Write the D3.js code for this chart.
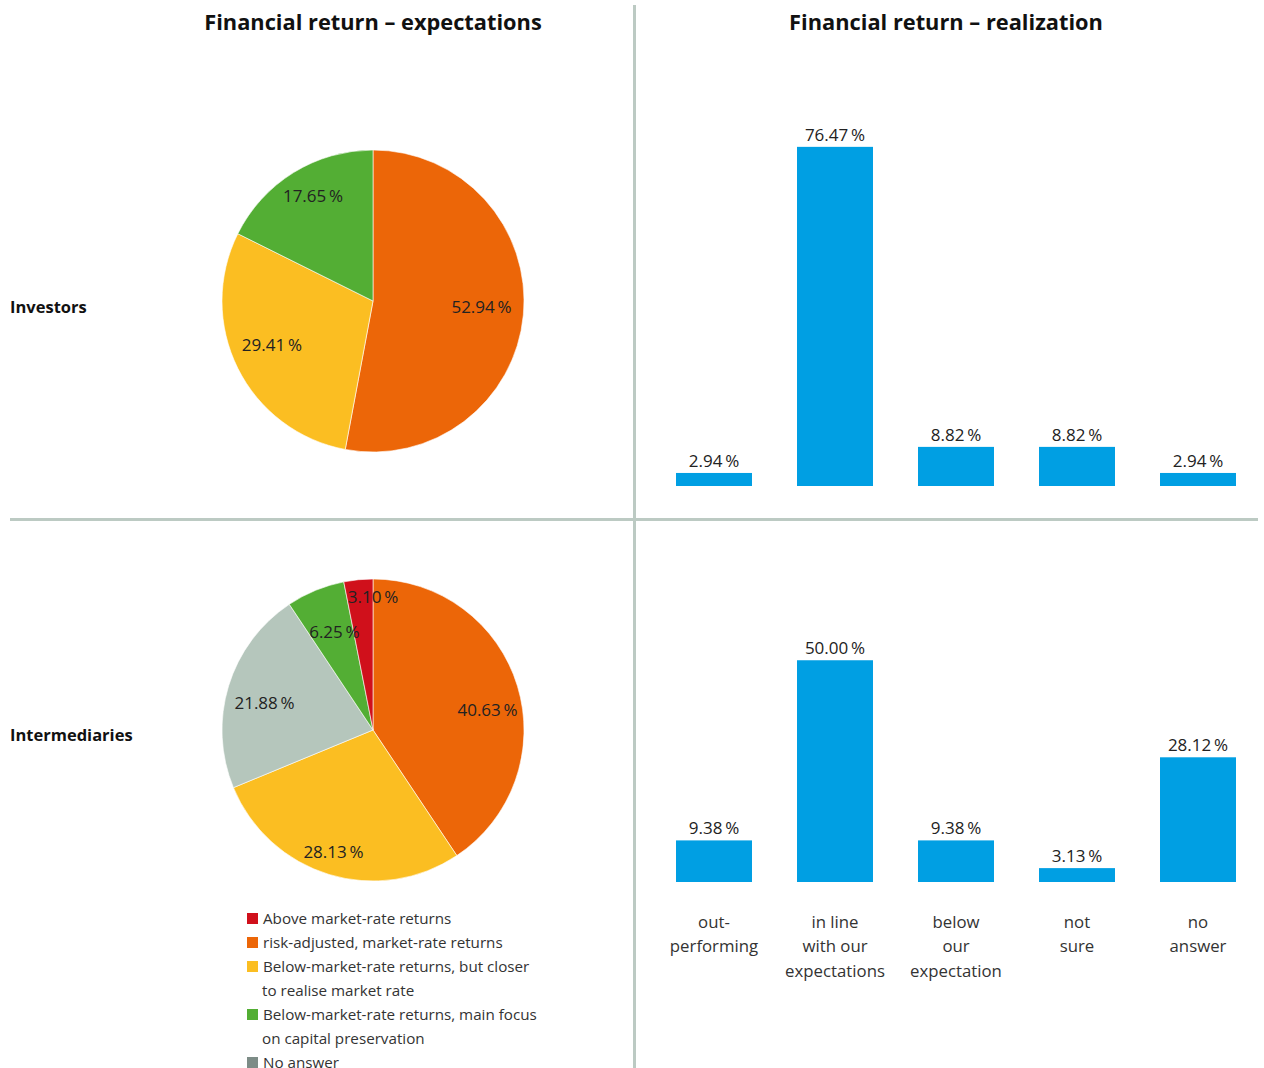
<!DOCTYPE html>
<html>
<head>
<meta charset="utf-8">
<script src="https://cdn.jsdelivr.net/npm/d3@7/dist/d3.min.js"></script>
<style>
  html, body { margin: 0; padding: 0; background: #fff; }
  svg { display: block; }
  text { font-family: "Open Sans", Roboto, sans-serif; fill: #222; }
  .title, .rowlabel { font-family: "Open Sans", "Noto Sans", sans-serif; font-weight: 700; fill: #111; }
</style>
</head>
<body>
<svg id="chart" width="1264" height="1068"></svg>
<script>
// ---- data ----
const expectCategories = [
  "Above market-rate returns",
  "risk-adjusted, market-rate returns",
  "Below-market-rate returns, but closer to realise market rate",
  "Below-market-rate returns, main focus on capital preservation",
  "No answer"
];
const legendLines = [
  ["Above market-rate returns"],
  ["risk-adjusted, market-rate returns"],
  ["Below-market-rate returns, but closer", "to realise market rate"],
  ["Below-market-rate returns, main focus", "on capital preservation"],
  ["No answer"]
];
const expectColors = ["#d0101b", "#ec6608", "#fbbe22", "#53ae34", "#b5c6bc"];
const legendSwatch = ["#d0101b", "#ec6608", "#fbbe22", "#53ae34", "#7d8c87"];
// clockwise drawing order of the slices, starting at twelve o'clock
const sliceOrder = [1, 2, 4, 3, 0];

const investorsExpect = [0, 52.94, 29.41, 17.65, 0];
const intermediariesExpect = [3.10, 40.63, 28.13, 6.25, 21.88];

const realizeCategories = [
  ["out-", "performing"],
  ["in line", "with our", "expectations"],
  ["below", "our", "expectation"],
  ["not", "sure"],
  ["no", "answer"]
];
const investorsRealize = [2.94, 76.47, 8.82, 8.82, 2.94];
const intermediariesRealize = [9.38, 50.00, 9.38, 3.13, 28.12];

const rowLabels = ["Investors", "Intermediaries"];
const panelTitles = ["Financial return \u2013 expectations", "Financial return \u2013 realization"];

// ---- layout ----
const svg = d3.select("#chart");
const divider = "#bccac3";
const fmt = v => d3.format(".2f")(v) + "\u2009%";

// titles
svg.append("text").attr("class", "title").attr("x", 373).attr("y", 30)
  .attr("text-anchor", "middle").style("font-size", "21.8px").text(panelTitles[0]);
svg.append("text").attr("class", "title").attr("x", 946).attr("y", 30)
  .attr("text-anchor", "middle").style("font-size", "21.8px").text(panelTitles[1]);

// dividers
svg.append("line").attr("x1", 634.5).attr("x2", 634.5).attr("y1", 5).attr("y2", 1068)
  .attr("stroke", divider).attr("stroke-width", 3);
svg.append("line").attr("x1", 10).attr("x2", 1258).attr("y1", 519.5).attr("y2", 519.5)
  .attr("stroke", divider).attr("stroke-width", 3);

// row labels
svg.append("text").attr("class", "rowlabel").attr("x", 10).attr("y", 313)
  .style("font-size", "16.5px").text(rowLabels[0]);
svg.append("text").attr("class", "rowlabel").attr("x", 10).attr("y", 741)
  .style("font-size", "16.5px").text(rowLabels[1]);

// ---- pies ----
const radius = 151;
const pie = d3.pie().sort(null).value(d => d.value);
const arc = d3.arc().innerRadius(0).outerRadius(radius);

// label placement per slice index: angle nudge (deg) and radius fraction
const labelPlacement = {
  inv: { 1: [-2, 0.72], 2: [3, 0.73], 3: [2, 0.80] },
  int: { 1: [7, 0.77], 2: [1, 0.85], 4: [-3, 0.74], 3: [1, 0.70], 0: [5.6, 0.88] }
};

function drawPie(values, cx, cy, key) {
  const items = sliceOrder.map(i => ({ idx: i, value: values[i] }));
  const arcs = pie(items);
  const g = svg.append("g").attr("transform", `translate(${cx},${cy})`);
  g.selectAll("path").data(arcs.filter(a => a.data.value > 0)).join("path")
    .attr("d", arc)
    .attr("fill", d => expectColors[d.data.idx])
    .attr("stroke", "#fff").attr("stroke-width", 0.6);
  g.selectAll("text").data(arcs.filter(a => a.data.value > 0)).join("text")
    .attr("transform", d => {
      const p = labelPlacement[key][d.data.idx] || [0, 0.72];
      const a = (d.startAngle + d.endAngle) / 2 + p[0] * Math.PI / 180;
      const r = radius * p[1];
      return `translate(${Math.sin(a) * r},${-Math.cos(a) * r})`;
    })
    .attr("text-anchor", "middle").attr("dy", "0.35em")
    .style("font-size", "17px")
    .text(d => fmt(d.data.value));
}
drawPie(investorsExpect, 373, 301, "inv");
drawPie(intermediariesExpect, 373, 730, "int");

// ---- legend ----
const legend = svg.append("g");
let ly = 919;
legendLines.forEach((lines, i) => {
  legend.append("rect").attr("x", 247).attr("y", ly - 6).attr("width", 11).attr("height", 11)
    .attr("fill", legendSwatch[i]);
  lines.forEach((t, j) => {
    legend.append("text").attr("x", j === 0 ? 263 : 262).attr("y", ly).attr("dy", "0.35em")
      .style("font-size", "15.2px").style("fill", "#333").text(t);
    ly += 24;
  });
});

// ---- bars ----
const x = d3.scaleBand().domain(d3.range(realizeCategories.length))
  .range([653.5, 1258.5]).paddingInner(0.372).paddingOuter(0.186);

function drawBars(values, baseline) {
  const y = d3.scaleLinear().domain([0, 100]).range([baseline, baseline - 443.5]);
  const g = svg.append("g");
  g.selectAll("rect").data(values).join("rect")
    .attr("x", (d, i) => x(i)).attr("width", x.bandwidth())
    .attr("y", d => y(d)).attr("height", d => baseline - y(d))
    .attr("fill", "#009fe3");
  g.selectAll("text").data(values).join("text")
    .attr("x", (d, i) => x(i) + x.bandwidth() / 2).attr("y", d => y(d) - 6)
    .attr("text-anchor", "middle").style("font-size", "17px")
    .text(d => fmt(d));
}
drawBars(investorsRealize, 486);
drawBars(intermediariesRealize, 882);

// category axis labels
const axisG = svg.append("g");
realizeCategories.forEach((lines, i) => {
  lines.forEach((t, j) => {
    axisG.append("text").attr("x", x(i) + x.bandwidth() / 2).attr("y", 922 + j * 24.5)
      .attr("dy", "0.35em").attr("text-anchor", "middle")
      .style("font-size", "16.8px").style("fill", "#333").text(t);
  });
});
</script>
</body>
</html>
